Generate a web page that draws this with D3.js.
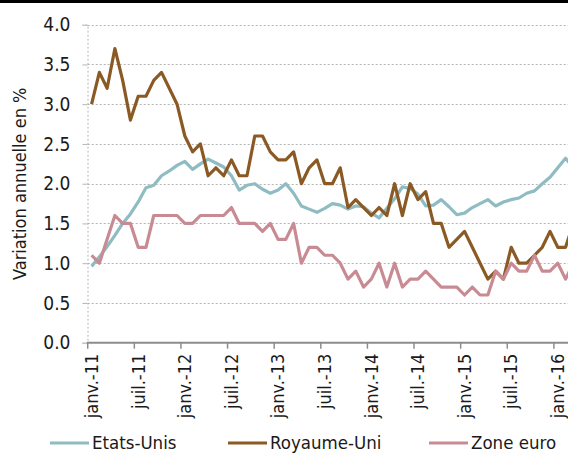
<!DOCTYPE html>
<meta charset="utf-8">
<script src="https://d3js.org/d3.v7.min.js"></script>
<style>
    body { margin: 0; background: #fff; }
    text { font-family: "DejaVu Sans Condensed", "DejaVu Sans", sans-serif; font-stretch: condensed; fill: #1a1a1a; }
</style>
<div id="my_dataviz"></div>
<script>
    // month labels (French), janv.-11 to mars-16
    var monthNames = ["janv.", "févr.", "mars", "avr.", "mai", "juin", "juil.", "août", "sept.", "oct.", "nov.", "déc."];
    var years = ["11", "12", "13", "14", "15", "16"];
    var nMonths = 63;

    // year-on-year change, %
    var etatsUnis = [
        0.96, 1.08, 1.21, 1.35, 1.50, 1.62, 1.77, 1.95, 1.98, 2.10, 2.16, 2.23,
        2.28, 2.18, 2.25, 2.31, 2.26, 2.21, 2.10, 1.92, 1.98, 2.00, 1.93, 1.88,
        1.92, 2.00, 1.88, 1.72, 1.68, 1.64, 1.69, 1.75, 1.73, 1.68, 1.72, 1.71,
        1.63, 1.57, 1.69, 1.81, 1.96, 1.94, 1.87, 1.72, 1.73, 1.80, 1.71, 1.61,
        1.63, 1.70, 1.75, 1.80, 1.72, 1.77, 1.80, 1.82, 1.88, 1.91, 2.00, 2.08,
        2.20, 2.32, 2.20
    ];
    var royaumeUni = [
        3.0, 3.4, 3.2, 3.7, 3.3, 2.8, 3.1, 3.1, 3.3, 3.4, 3.2, 3.0,
        2.6, 2.4, 2.5, 2.1, 2.2, 2.1, 2.3, 2.1, 2.1, 2.6, 2.6, 2.4,
        2.3, 2.3, 2.4, 2.0, 2.2, 2.3, 2.0, 2.0, 2.2, 1.7, 1.8, 1.7,
        1.6, 1.7, 1.6, 2.0, 1.6, 2.0, 1.8, 1.9, 1.5, 1.5, 1.2, 1.3,
        1.4, 1.2, 1.0, 0.8, 0.9, 0.8, 1.2, 1.0, 1.0, 1.1, 1.2, 1.4,
        1.2, 1.2, 1.5
    ];
    var zoneEuro = [
        1.1, 1.0, 1.3, 1.6, 1.5, 1.5, 1.2, 1.2, 1.6, 1.6, 1.6, 1.6,
        1.5, 1.5, 1.6, 1.6, 1.6, 1.6, 1.7, 1.5, 1.5, 1.5, 1.4, 1.5,
        1.3, 1.3, 1.5, 1.0, 1.2, 1.2, 1.1, 1.1, 1.0, 0.8, 0.9, 0.7,
        0.8, 1.0, 0.7, 1.0, 0.7, 0.8, 0.8, 0.9, 0.8, 0.7, 0.7, 0.7,
        0.6, 0.7, 0.6, 0.6, 0.9, 0.8, 1.0, 0.9, 0.9, 1.1, 0.9, 0.9,
        1.0, 0.8, 1.0
    ];
    var yTicks = [0, 0.5, 1, 1.5, 2, 2.5, 3, 3.5, 4];
    var seriesNames = ["Etats-Unis", "Royaume-Uni", "Zone euro"];
    var seriesColors = ["#8fbcc2", "#8b5a24", "#c98b93"];

    var months = d3.range(nMonths).map(function(i) {
        return monthNames[i % 12] + "-" + years[Math.floor(i / 12)];
    });

    var width = 568, height = 453;
    var plotLeft = 87.7, plotTop = 24.7, plotBottom = 342.7, step = 7.77;

    var svg = d3.select("#my_dataviz")
        .append("svg")
        .attr("width", width)
        .attr("height", height);

    // black rule at the top
    svg.append("rect")
        .attr("x", 0).attr("y", 0)
        .attr("width", width).attr("height", 3)
        .attr("fill", "#000");

    var x = d3.scaleBand()
        .domain(months)
        .range([plotLeft, plotLeft + nMonths * step])
        .padding(0);

    var y = d3.scaleLinear()
        .domain([0, 4])
        .range([plotBottom, plotTop]);

    // dotted grid lines
    svg.append("g")
        .selectAll("line")
        .data(yTicks.filter(function(d) { return d > 0; }))
        .enter().append("line")
        .attr("x1", plotLeft)
        .attr("x2", width)
        .attr("y1", function(d) { return Math.round(y(d)) + 0.5; })
        .attr("y2", function(d) { return Math.round(y(d)) + 0.5; })
        .attr("stroke", "#b4b4b4")
        .attr("stroke-dasharray", "2,2");

    // Y axis
    var yAxis = svg.append("g")
        .attr("transform", "translate(" + (Math.round(plotLeft) - 0.5) + ",0)")
        .call(d3.axisLeft(y).tickValues(yTicks).tickFormat(d3.format(".1f")).tickSize(5).tickPadding(12));
    yAxis.select(".domain")
        .attr("stroke", "#b4b4b4")
        .attr("stroke-dasharray", "2,2");
    yAxis.selectAll(".tick line").attr("stroke", "#b4b4b4");
    yAxis.selectAll(".tick text")
        .style("font-size", "19px");

    svg.append("text")
        .attr("transform", "translate(26," + ((plotTop + plotBottom) / 2) + ") rotate(-90)")
        .attr("text-anchor", "middle")
        .style("font-size", "18px")
        .text("Variation annuelle en %");

    // X axis (ticks between categories, every 6 months)
    var tickMonths = months.filter(function(d, i) { return i % 6 === 0; });
    var xAxis = svg.append("g");
    xAxis.append("line")
        .attr("x1", plotLeft - 1)
        .attr("x2", width)
        .attr("y1", plotBottom)
        .attr("y2", plotBottom)
        .attr("stroke", "#8c8c8c")
        .attr("stroke-width", 2);
    xAxis.selectAll(".xtick")
        .data(tickMonths)
        .enter().append("line")
        .attr("x1", function(d) { return x(d); })
        .attr("x2", function(d) { return x(d); })
        .attr("y1", plotBottom)
        .attr("y2", plotBottom + 6)
        .attr("stroke", "#8c8c8c")
        .attr("stroke-width", 1.5);
    xAxis.selectAll(".xlabel")
        .data(tickMonths)
        .enter().append("text")
        .attr("transform", function(d) {
            return "translate(" + (x(d) + x.bandwidth() / 2) + "," + (plotBottom + 11) + ") rotate(-90)";
        })
        .attr("text-anchor", "end")
        .attr("dy", "0.35em")
        .style("font-size", "18px")
        .text(function(d) { return d; });

    // lines
    var line = d3.line()
        .x(function(d, i) { return x(months[i]) + x.bandwidth() / 2; })
        .y(function(d) { return y(d); });

    [etatsUnis, royaumeUni, zoneEuro].forEach(function(s, i) {
        svg.append("path")
            .datum(s)
            .attr("fill", "none")
            .attr("stroke", seriesColors[i])
            .attr("stroke-width", 3.2)
            .attr("stroke-linejoin", "round")
            .attr("d", line);
    });

    // legend
    var legendX = [50, 228, 429];
    var legend = svg.append("g")
        .selectAll("g")
        .data(seriesNames)
        .enter().append("g")
        .attr("transform", function(d, i) { return "translate(" + legendX[i] + ",443)"; });
    legend.append("line")
        .attr("x1", 0).attr("x2", 39)
        .attr("stroke", function(d, i) { return seriesColors[i]; })
        .attr("stroke-width", 3.2);
    legend.append("text")
        .attr("x", 42)
        .attr("dy", "0.35em")
        .style("font-size", "18.5px")
        .text(function(d) { return d; });
</script>
